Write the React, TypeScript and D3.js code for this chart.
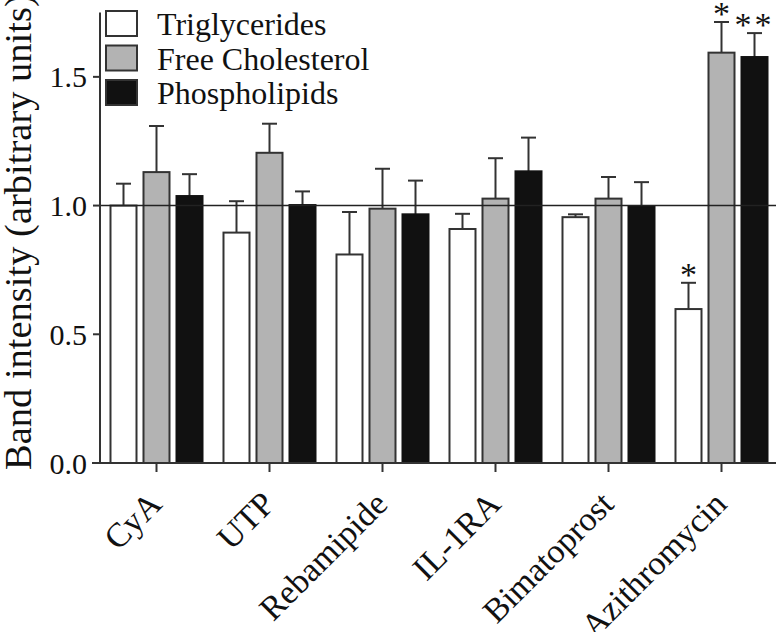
import React from "react";
import * as d3 from "d3";

const categories = ["CyA", "UTP", "Rebamipide", "IL-1RA", "Bimatoprost", "Azithromycin"];
const seriesNames = ["Triglycerides", "Free Cholesterol", "Phospholipids"];
const triglycerides = [1.0, 0.895, 0.81, 0.909, 0.955, 0.598];
const triglyceridesErr = [0.085, 0.122, 0.165, 0.059, 0.011, 0.102];
const freeCholesterol = [1.13, 1.205, 0.988, 1.027, 1.027, 1.594];
const freeCholesterolErr = [0.179, 0.113, 0.155, 0.157, 0.084, 0.119];
const phospholipids = [1.037, 1.002, 0.966, 1.133, 0.998, 1.577];
const phospholipidsErr = [0.085, 0.053, 0.131, 0.131, 0.093, 0.093];
const triglyceridesSig = ["", "", "", "", "", "*"];
const freeCholesterolSig = ["", "", "", "", "", "*"];
const phospholipidsSig = ["", "", "", "", "", "**"];
const yTicks = [0, 0.5, 1.0, 1.5];
const referenceValue = 1.0;

const W = 776;
const H = 632;
const FONT = "'Liberation Serif', 'Times New Roman', Times, serif";
const fills = ["#ffffff", "#b3b3b3", "#111111"];
const STROKE = "#333333";
const ts = (size: number) => ({ fontFamily: FONT, fontSize: size + "px" });

export default function App() {
  const x0 = d3.scaleBand<string>().domain(categories).range([100, 778]).paddingInner(0).paddingOuter(0);
  const x1 = d3
    .scaleBand<number>()
    .domain([0, 1, 2])
    .range([0, x0.bandwidth()])
    .paddingInner(0.212)
    .paddingOuter(0.318);
  const y = d3.scaleLinear().domain([0, 1.75]).range([463, 12.5]);

  const values = [triglycerides, freeCholesterol, phospholipids];
  const errs = [triglyceridesErr, freeCholesterolErr, phospholipidsErr];
  const sigs = [triglyceridesSig, freeCholesterolSig, phospholipidsSig];

  const bw = x1.bandwidth();
  const capW = 15;

  return (
    <svg
      width={W}
      height={H}
      style={{ position: "absolute", left: 0, top: 0, background: "#fff" }}
    >
      <rect width={W} height={H} fill="#fff" />
      {categories.map((c, i) => (
        <g key={c}>
          {values.map((vals, s) => {
            const bx = (x0(c) as number) + (x1(s) as number);
            const v = vals[i];
            const top = y(v);
            const capY = y(v + errs[s][i]);
            const cx = bx + bw / 2;
            return (
              <g key={s}>
                <line x1={cx} x2={cx} y1={top} y2={capY} stroke={STROKE} strokeWidth={2} />
                <line x1={cx - capW / 2} x2={cx + capW / 2} y1={capY} y2={capY} stroke={STROKE} strokeWidth={2} />
                <rect
                  x={bx}
                  y={top}
                  width={bw}
                  height={y(0) - top}
                  fill={fills[s]}
                  stroke={s === 2 ? "#111" : STROKE}
                  strokeWidth={2}
                />
                {sigs[s][i] && (
                  <text
                    x={cx}
                    y={capY + 3}
                    textAnchor="middle"
                    style={{ ...ts(34), letterSpacing: sigs[s][i].length > 1 ? "3px" : "0px" }}
                    fill="#111"
                  >
                    {sigs[s][i]}
                  </text>
                )}
              </g>
            );
          })}
        </g>
      ))}
      <line x1={100} x2={W} y1={y(referenceValue)} y2={y(referenceValue)} stroke="#222" strokeWidth={1.6} />
      <line x1={100} x2={100} y1={y(1.75)} y2={y(0)} stroke={STROKE} strokeWidth={2} />
      {yTicks.map((t) => (
        <g key={t}>
          <line x1={93} x2={100} y1={y(t)} y2={y(t)} stroke={STROKE} strokeWidth={2} />
          <text x={87} y={y(t) + 10.5} textAnchor="end" style={ts(30)} fill="#111">
            {t.toFixed(1)}
          </text>
        </g>
      ))}
      <line x1={92} x2={W} y1={y(0)} y2={y(0)} stroke={STROKE} strokeWidth={2} />
      {categories.map((c) => {
        const cx = (x0(c) as number) + x0.bandwidth() / 2;
        return (
          <g key={c}>
            <line x1={cx} x2={cx} y1={y(0)} y2={y(0) + 9} stroke={STROKE} strokeWidth={2} />
            <text
              transform={`translate(${cx + 7},${506}) rotate(-45)`}
              textAnchor="end"
              style={ts(34)}
              fill="#111"
            >
              {c}
            </text>
          </g>
        );
      })}
      <text transform={`translate(31,470) rotate(-90)`} textAnchor="start" style={ts(38.5)} fill="#111">
        Band intensity (arbitrary units)
      </text>
      {seriesNames.map((n, s) => (
        <g key={n}>
          <rect x={106} y={11 + s * 34.5} width={31} height={25} fill={fills[s]} stroke={STROKE} strokeWidth={2} />
          <text x={157} y={35 + s * 34.5} style={ts(32)} fill="#111">
            {n}
          </text>
        </g>
      ))}
    </svg>
  );
}
